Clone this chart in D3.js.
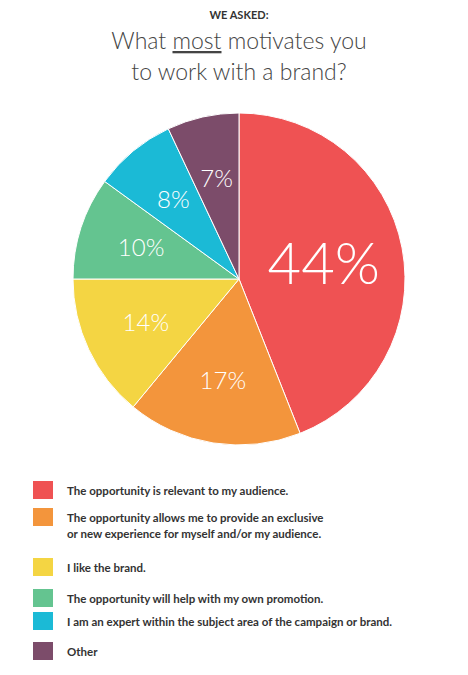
<!DOCTYPE html>
<html><head><meta charset="utf-8">
<script src="https://cdn.jsdelivr.net/npm/d3@7"></script>
<style>body{margin:0;background:#fff}</style>
</head><body>
<svg width="468" height="675"></svg>
<script>
const labels = ['The opportunity is relevant to my audience.',
  'The opportunity allows me to provide an exclusive\nor new experience for myself and/or my audience.',
  'I like the brand.',
  'The opportunity will help with my own promotion.',
  'I am an expert within the subject area of the campaign or brand.',
  'Other']
const values = [44, 17, 14, 10, 8, 7]
const colors = ['#ef5253', '#f3953c', '#f4d543', '#64c490', '#1bbad6', '#7c4c6a']

const svg = d3.select('svg')
const font = 'Lato, "Open Sans", sans-serif'

svg.append('text').attr('x', 239).attr('y', 19).attr('text-anchor', 'middle')
   .attr('font-family', font).attr('font-weight', 700).attr('font-size', 11).attr('fill', '#333')
   .text('WE ASKED:')
const t1 = svg.append('text').attr('x', 239).attr('y', 49).attr('text-anchor', 'middle')
   .attr('font-family', font).attr('font-weight', 300).attr('font-size', 23).attr('fill', '#444')
t1.append('tspan').text('What ')
t1.append('tspan').attr('text-decoration', 'underline').text('most')
t1.append('tspan').text(' motivates you')
svg.append('text').attr('x', 239).attr('y', 80).attr('text-anchor', 'middle')
   .attr('font-family', font).attr('font-weight', 300).attr('font-size', 23).attr('fill', '#444')
   .text('to work with a brand?')

const r = 166
const g = svg.append('g').attr('transform', 'translate(239,279)')
const pie = d3.pie().sort(null)(values)
const arc = d3.arc().innerRadius(0).outerRadius(r)
g.selectAll('path').data(pie).join('path')
 .attr('d', arc).attr('fill', (d, i) => colors[i])
 .attr('stroke', '#fff').attr('stroke-width', 1)

const labelArc = d3.arc().innerRadius(r * 0.62).outerRadius(r * 0.62)
g.selectAll('text').data(pie).join('text')
 .attr('transform', (d, i) => {
   const [x, y] = (i === 0 ? d3.arc().innerRadius(r * 0.52).outerRadius(r * 0.52) : labelArc).centroid(d)
   return `translate(${x},${y})`
 })
 .attr('text-anchor', 'middle').attr('dy', (d, i) => i === 0 ? '0.36em' : '0.36em')
 .attr('font-family', font).attr('font-weight', 300)
 .attr('font-size', (d, i) => i === 0 ? 58 : 24).attr('fill', '#fff')
 .text(d => d.value + '%')

const rowsY = [491, 518, 568, 599, 622, 652]
const leg = svg.append('g')
labels.forEach((l, i) => {
  leg.append('rect').attr('x', 33).attr('y', rowsY[i] - 10).attr('width', 20).attr('height', 18)
     .attr('fill', colors[i])
  const t = leg.append('text').attr('x', 67).attr('y', rowsY[i] + 4)
     .attr('font-family', font).attr('font-weight', 700).attr('font-size', 11.5).attr('fill', '#333')
  l.split('\n').forEach((s, j) => t.append('tspan').attr('x', 67).attr('dy', j ? 16 : 0).text(s))
})
</script>
</body></html>
